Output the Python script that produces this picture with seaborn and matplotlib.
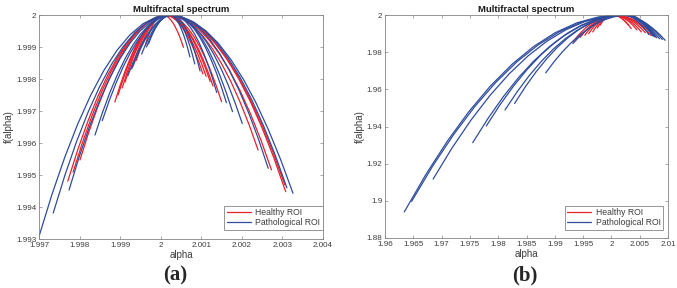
import matplotlib
matplotlib.use("Agg")
import matplotlib.pyplot as plt
import pandas as pd
import seaborn as sns
from matplotlib.lines import Line2D

# ---------------- data ----------------
GROUPS = ["Healthy ROI", "Pathological ROI"]

# Panel (a): healthy curves, alpha values
A_HEALTHY_ALPHA = [
    [1.99771, 1.997957, 1.998204, 1.998451, 1.998698, 1.998945, 1.999192, 1.999439, 1.999686, 1.999933, 2.00018,
     2.00047, 2.00076, 2.00105, 2.00134, 2.00163, 2.00192, 2.00221, 2.0025, 2.00279, 2.00308],
    [1.99784, 1.998074, 1.998308, 1.998542, 1.998776, 1.99901, 1.999244, 1.999478, 1.999712, 1.999946, 2.00018,
     2.000468, 2.000756, 2.001044, 2.001332, 2.00162, 2.001908, 2.002196, 2.002484, 2.002772, 2.00306],
    [1.99801, 1.998225, 1.99844, 1.998655, 1.99887, 1.999085, 1.9993, 1.999515, 1.99973, 1.999945, 2.00016,
     2.000417, 2.000674, 2.000931, 2.001188, 2.001445, 2.001702, 2.001959, 2.002216, 2.002473, 2.00273],
    [1.99887, 1.998998, 1.999126, 1.999254, 1.999382, 1.99951, 1.999638, 1.999766, 1.999894, 2.000022, 2.00015,
     2.000375, 2.0006, 2.000825, 2.00105, 2.001275, 2.0015, 2.001725, 2.00195, 2.002175, 2.0024],
    [1.99895, 1.999069, 1.999188, 1.999307, 1.999426, 1.999545, 1.999664, 1.999783, 1.999902, 2.000021, 2.00014,
     2.000276, 2.000412, 2.000548, 2.000684, 2.00082, 2.000956, 2.001092, 2.001228, 2.001364, 2.0015],
    [1.99905, 1.999157, 1.999264, 1.999371, 1.999478, 1.999585, 1.999692, 1.999799, 1.999906, 2.000013, 2.00012,
     2.000237, 2.000354, 2.000471, 2.000588, 2.000705, 2.000822, 2.000939, 2.001056, 2.001173, 2.00129],
    [1.99912, 1.99922, 1.99932, 1.99942, 1.99952, 1.99962, 1.99972, 1.99982, 1.99992, 2.00002, 2.00012,
     2.00023, 2.00034, 2.00045, 2.00056, 2.00067, 2.00078, 2.00089, 2.001, 2.00111, 2.00122],
    [1.99928, 1.999362, 1.999444, 1.999526, 1.999608, 1.99969, 1.999772, 1.999854, 1.999936, 2.000018, 2.0001,
     2.000202, 2.000304, 2.000406, 2.000508, 2.00061, 2.000712, 2.000814, 2.000916, 2.001018, 2.00112],
    [1.9994, 1.99947, 1.99954, 1.99961, 1.99968, 1.99975, 1.99982, 1.99989, 1.99996, 2.00003, 2.0001,
     2.000194, 2.000288, 2.000382, 2.000476, 2.00057, 2.000664, 2.000758, 2.000852, 2.000946, 2.00104],
    [1.99962, 1.999663, 1.999706, 1.999749, 1.999792, 1.999835, 1.999878, 1.999921, 1.999964, 2.000007, 2.00005,
     2.000101, 2.000152, 2.000203, 2.000254, 2.000305, 2.000356, 2.000407, 2.000458, 2.000509, 2.00056],
]
# Panel (a): healthy curves, f(alpha) values
A_HEALTHY_F = [
    [1.99481, 1.995796, 1.996678, 1.997457, 1.998132, 1.998702, 1.99917, 1.999533, 1.999792, 1.999948, 2.0,
     1.999945, 1.999779, 1.999503, 1.999117, 1.99862, 1.998013, 1.997295, 1.996467, 1.995529, 1.99448],
    [1.99509, 1.996023, 1.996858, 1.997594, 1.998232, 1.998772, 1.999214, 1.999558, 1.999804, 1.999951, 2.0,
     1.999947, 1.999788, 1.999522, 1.99915, 1.998672, 1.998088, 1.997398, 1.996602, 1.995699, 1.99469],
    [1.99547, 1.996331, 1.997101, 1.99778, 1.998369, 1.998867, 1.999275, 1.999592, 1.999819, 1.999955, 2.0,
     1.999952, 1.999806, 1.999564, 1.999226, 1.99879, 1.998258, 1.997628, 1.996902, 1.99608, 1.99516],
    [1.99728, 1.997797, 1.998259, 1.998667, 1.999021, 1.99932, 1.999565, 1.999755, 1.999891, 1.999973, 2.0,
     1.999958, 1.999831, 1.99962, 1.999325, 1.998945, 1.998481, 1.997932, 1.997299, 1.996582, 1.99578],
    [1.9975, 1.997975, 1.9984, 1.998775, 1.9991, 1.999375, 1.9996, 1.999775, 1.9999, 1.999975, 2.0,
     1.999973, 1.999892, 1.999756, 1.999566, 1.999322, 1.999024, 1.998672, 1.998266, 1.997805, 1.99729],
    [1.99772, 1.998153, 1.998541, 1.998883, 1.999179, 1.99943, 1.999635, 1.999795, 1.999909, 1.999977, 2.0,
     1.999978, 1.999911, 1.9998, 1.999645, 1.999445, 1.999201, 1.998912, 1.998579, 1.998202, 1.99778],
    [1.9979, 1.998299, 1.998656, 1.998971, 1.999244, 1.999475, 1.999664, 1.999811, 1.999916, 1.999979, 2.0,
     1.999979, 1.999917, 1.999813, 1.999667, 1.99948, 1.999251, 1.998981, 1.998669, 1.998315, 1.99792],
    [1.99831, 1.998631, 1.998918, 1.999172, 1.999392, 1.999577, 1.99973, 1.999848, 1.999932, 1.999983, 2.0,
     1.999981, 1.999923, 1.999827, 1.999693, 1.99952, 1.999309, 1.999059, 1.998771, 1.998445, 1.99808],
    [1.99858, 1.99885, 1.999091, 1.999304, 1.999489, 1.999645, 1.999773, 1.999872, 1.999943, 1.999986, 2.0,
     1.999982, 1.999926, 1.999834, 1.999706, 1.99954, 1.999338, 1.999098, 1.998822, 1.99851, 1.99816],
    [1.99905, 1.99923, 1.999392, 1.999534, 1.999658, 1.999762, 1.999848, 1.999914, 1.999962, 1.99999, 2.0,
     1.99999, 1.99996, 1.999909, 1.999838, 1.999747, 1.999636, 1.999505, 1.999354, 1.999182, 1.99899],
]

# Panel (a): pathological curves, alpha values
A_PATHO_ALPHA = [
    [1.997, 1.99732, 1.99764, 1.99796, 1.99828, 1.9986, 1.99892, 1.99924, 1.99956, 1.99988, 2.0002,
     2.000506, 2.000812, 2.001118, 2.001424, 2.00173, 2.002036, 2.002342, 2.002648, 2.002954, 2.00326],
    [1.99735, 1.997637, 1.997924, 1.998211, 1.998498, 1.998785, 1.999072, 1.999359, 1.999646, 1.999933, 2.00022,
     2.000509, 2.000798, 2.001087, 2.001376, 2.001665, 2.001954, 2.002243, 2.002532, 2.002821, 2.00311],
    [1.99774, 1.997991, 1.998242, 1.998493, 1.998744, 1.998995, 1.999246, 1.999497, 1.999748, 1.999999, 2.00025,
     2.00049, 2.00073, 2.00097, 2.00121, 2.00145, 2.00169, 2.00193, 2.00217, 2.00241, 2.00265],
    [1.99838, 1.998567, 1.998754, 1.998941, 1.999128, 1.999315, 1.999502, 1.999689, 1.999876, 2.000063, 2.00025,
     2.000426, 2.000602, 2.000778, 2.000954, 2.00113, 2.001306, 2.001482, 2.001658, 2.001834, 2.00201],
    [1.99856, 1.998732, 1.998904, 1.999076, 1.999248, 1.99942, 1.999592, 1.999764, 1.999936, 2.000108, 2.00028,
     2.000429, 2.000578, 2.000727, 2.000876, 2.001025, 2.001174, 2.001323, 2.001472, 2.001621, 2.00177],
    [1.99919, 1.999301, 1.999412, 1.999523, 1.999634, 1.999745, 1.999856, 1.999967, 2.000078, 2.000189, 2.0003,
     2.000432, 2.000564, 2.000696, 2.000828, 2.00096, 2.001092, 2.001224, 2.001356, 2.001488, 2.00162],
    [1.9993, 1.9994, 1.9995, 1.9996, 1.9997, 1.9998, 1.9999, 2.0, 2.0001, 2.0002, 2.0003,
     2.000408, 2.000516, 2.000624, 2.000732, 2.00084, 2.000948, 2.001056, 2.001164, 2.001272, 2.00138],
    [1.99953, 1.999605, 1.99968, 1.999755, 1.99983, 1.999905, 1.99998, 2.000055, 2.00013, 2.000205, 2.00028,
     2.000349, 2.000418, 2.000487, 2.000556, 2.000625, 2.000694, 2.000763, 2.000832, 2.000901, 2.00097],
    [1.99965, 1.99971, 1.99977, 1.99983, 1.99989, 1.99995, 2.00001, 2.00007, 2.00013, 2.00019, 2.00025,
     2.000309, 2.000368, 2.000427, 2.000486, 2.000545, 2.000604, 2.000663, 2.000722, 2.000781, 2.00084],
    [1.9997, 1.999752, 1.999804, 1.999856, 1.999908, 1.99996, 2.000012, 2.000064, 2.000116, 2.000168, 2.00022,
     2.00027, 2.00032, 2.00037, 2.00042, 2.00047, 2.00052, 2.00057, 2.00062, 2.00067, 2.00072],
]
# Panel (a): pathological curves, f(alpha) values
A_PATHO_F = [
    [1.99308, 1.994395, 1.995571, 1.996609, 1.997509, 1.99827, 1.998893, 1.999377, 1.999723, 1.999931, 2.0,
     1.999944, 1.999777, 1.999499, 1.999109, 1.998607, 1.997995, 1.997271, 1.996435, 1.995488, 1.99443],
    [1.99381, 1.994986, 1.996038, 1.996967, 1.997772, 1.998452, 1.99901, 1.999443, 1.999752, 1.999938, 2.0,
     1.999946, 1.999784, 1.999514, 1.999136, 1.99865, 1.998056, 1.997354, 1.996544, 1.995626, 1.9946],
    [1.99453, 1.995569, 1.996499, 1.99732, 1.998031, 1.998632, 1.999125, 1.999508, 1.999781, 1.999945, 2.0,
     1.999952, 1.999808, 1.999569, 1.999234, 1.998802, 1.998276, 1.997653, 1.996934, 1.99612, 1.99521],
    [1.99625, 1.996962, 1.9976, 1.998162, 1.99865, 1.999062, 1.9994, 1.999662, 1.99985, 1.999962, 2.0,
     1.999966, 1.999864, 1.999695, 1.999458, 1.999152, 1.99878, 1.998339, 1.99783, 1.997254, 1.99661],
    [1.9967, 1.997327, 1.997888, 1.998383, 1.998812, 1.999175, 1.999472, 1.999703, 1.999868, 1.999967, 2.0,
     1.99997, 1.999879, 1.999728, 1.999517, 1.999245, 1.998913, 1.99852, 1.998067, 1.997554, 1.99698],
    [1.9981, 1.998461, 1.998784, 1.999069, 1.999316, 1.999525, 1.999696, 1.999829, 1.999924, 1.999981, 2.0,
     1.999973, 1.99989, 1.999753, 1.999562, 1.999315, 1.999014, 1.998657, 1.998246, 1.997781, 1.99726],
    [1.99835, 1.998663, 1.998944, 1.999191, 1.999406, 1.999587, 1.999736, 1.999851, 1.999934, 1.999983, 2.0,
     1.999976, 1.999903, 1.999782, 1.999613, 1.999395, 1.999129, 1.998814, 1.998451, 1.99804, 1.99758],
    [1.99878, 1.999012, 1.999219, 1.999402, 1.999561, 1.999695, 1.999805, 1.99989, 1.999951, 1.999988, 2.0,
     1.999982, 1.99993, 1.999842, 1.99972, 1.999562, 1.99937, 1.999142, 1.99888, 1.998582, 1.99825],
    [1.999, 1.99919, 1.99936, 1.99951, 1.99964, 1.99975, 1.99984, 1.99991, 1.99996, 1.99999, 2.0,
     1.999985, 1.999939, 1.999862, 1.999755, 1.999617, 1.999449, 1.99925, 1.999021, 1.998761, 1.99847],
    [1.9991, 1.999271, 1.999424, 1.999559, 1.999676, 1.999775, 1.999856, 1.999919, 1.999964, 1.999991, 2.0,
     1.999987, 1.999948, 1.999882, 1.99979, 1.999672, 1.999528, 1.999358, 1.999162, 1.998939, 1.99869],
]

# Panel (b): healthy curves, alpha values
B_HEALTHY_ALPHA = [
    [1.9932, 1.99393, 1.99466, 1.99539, 1.99612, 1.99685, 1.99758, 1.99831, 1.99904, 1.99977, 2.0005,
     2.00122, 2.00194, 2.00266, 2.00338, 2.0041, 2.00482, 2.00554, 2.00626, 2.00698, 2.0077],
    [1.9945, 1.9951, 1.9957, 1.9963, 1.9969, 1.9975, 1.9981, 1.9987, 1.9993, 1.9999, 2.0005,
     2.00115, 2.0018, 2.00245, 2.0031, 2.00375, 2.0044, 2.00505, 2.0057, 2.00635, 2.007],
    [1.9953, 1.99581, 1.99632, 1.99683, 1.99734, 1.99785, 1.99836, 1.99887, 1.99938, 1.99989, 2.0004,
     2.00096, 2.00152, 2.00208, 2.00264, 2.0032, 2.00376, 2.00432, 2.00488, 2.00544, 2.006],
    [1.996, 1.99643, 1.99686, 1.99729, 1.99772, 1.99815, 1.99858, 1.99901, 1.99944, 1.99987, 2.0003,
     2.0008, 2.0013, 2.0018, 2.0023, 2.0028, 2.0033, 2.0038, 2.0043, 2.0048, 2.0053],
    [1.9967, 1.99706, 1.99742, 1.99778, 1.99814, 1.9985, 1.99886, 1.99922, 1.99958, 1.99994, 2.0003,
     2.00072, 2.00114, 2.00156, 2.00198, 2.0024, 2.00282, 2.00324, 2.00366, 2.00408, 2.0045],
    [1.9975, 1.99777, 1.99804, 1.99831, 1.99858, 1.99885, 1.99912, 1.99939, 1.99966, 1.99993, 2.0002,
     2.00053, 2.00086, 2.00119, 2.00152, 2.00185, 2.00218, 2.00251, 2.00284, 2.00317, 2.0035],
    [1.998, 1.99822, 1.99844, 1.99866, 1.99888, 1.9991, 1.99932, 1.99954, 1.99976, 1.99998, 2.0002,
     2.00048, 2.00076, 2.00104, 2.00132, 2.0016, 2.00188, 2.00216, 2.00244, 2.00272, 2.003],
]
# Panel (b): healthy curves, f(alpha) values
B_HEALTHY_F = [
    [1.9855, 1.988255, 1.99072, 1.992895, 1.99478, 1.996375, 1.99768, 1.998695, 1.99942, 1.999855, 2.0,
     1.999882, 1.999528, 1.998938, 1.998112, 1.99705, 1.995752, 1.994218, 1.992448, 1.990442, 1.9882],
    [1.988, 1.99028, 1.99232, 1.99412, 1.99568, 1.997, 1.99808, 1.99892, 1.99952, 1.99988, 2.0,
     1.99989, 1.99956, 1.99901, 1.99824, 1.99725, 1.99604, 1.99461, 1.99296, 1.99109, 1.989],
    [1.9891, 1.991171, 1.993024, 1.994659, 1.996076, 1.997275, 1.998256, 1.999019, 1.999564, 1.999891, 2.0,
     1.999905, 1.99962, 1.999145, 1.99848, 1.997625, 1.99658, 1.995345, 1.99392, 1.992305, 1.9905],
    [1.99, 1.9919, 1.9936, 1.9951, 1.9964, 1.9975, 1.9984, 1.9991, 1.9996, 1.9999, 2.0,
     1.999909, 1.999636, 1.999181, 1.998544, 1.997725, 1.996724, 1.995541, 1.994176, 1.992629, 1.9909],
    [1.9909, 1.992629, 1.994176, 1.995541, 1.996724, 1.997725, 1.998544, 1.999181, 1.999636, 1.999909, 2.0,
     1.99992, 1.99968, 1.99928, 1.99872, 1.998, 1.99712, 1.99608, 1.99488, 1.99352, 1.992],
    [1.993, 1.99433, 1.99552, 1.99657, 1.99748, 1.99825, 1.99888, 1.99937, 1.99972, 1.99993, 2.0,
     1.999927, 1.999708, 1.999343, 1.998832, 1.998175, 1.997372, 1.996423, 1.995328, 1.994087, 1.9927],
    [1.9945, 1.995545, 1.99648, 1.997305, 1.99802, 1.998625, 1.99912, 1.999505, 1.99978, 1.999945, 2.0,
     1.999945, 1.99978, 1.999505, 1.99912, 1.998625, 1.99802, 1.997305, 1.99648, 1.995545, 1.9945],
]

# Panel (b): pathological curves, alpha values
B_PATHO_ALPHA = [
    [1.9634, 1.96721, 1.97102, 1.97483, 1.97864, 1.98245, 1.98626, 1.99007, 1.99388, 1.99769, 2.0015,
     2.0023, 2.0031, 2.0039, 2.0047, 2.0055, 2.0063, 2.0071, 2.0079, 2.0087, 2.0095],
    [1.9647, 1.96843, 1.97216, 1.97589, 1.97962, 1.98335, 1.98708, 1.99081, 1.99454, 1.99827, 2.002,
     2.0027, 2.0034, 2.0041, 2.0048, 2.0055, 2.0062, 2.0069, 2.0076, 2.0083, 2.009],
    [1.9685, 1.97185, 1.9752, 1.97855, 1.9819, 1.98525, 1.9886, 1.99195, 1.9953, 1.99865, 2.002,
     2.00265, 2.0033, 2.00395, 2.0046, 2.00525, 2.0059, 2.00655, 2.0072, 2.00785, 2.0085],
    [1.9755, 1.9782, 1.9809, 1.9836, 1.9863, 1.989, 1.9917, 1.9944, 1.9971, 1.9998, 2.0025,
     2.00305, 2.0036, 2.00415, 2.0047, 2.00525, 2.0058, 2.00635, 2.0069, 2.00745, 2.008],
    [1.9779, 1.98031, 1.98272, 1.98513, 1.98754, 1.98995, 1.99236, 1.99477, 1.99718, 1.99959, 2.002,
     2.00258, 2.00316, 2.00374, 2.00432, 2.0049, 2.00548, 2.00606, 2.00664, 2.00722, 2.0078],
    [1.9812, 1.98333, 1.98546, 1.98759, 1.98972, 1.99185, 1.99398, 1.99611, 1.99824, 2.00037, 2.0025,
     2.00301, 2.00352, 2.00403, 2.00454, 2.00505, 2.00556, 2.00607, 2.00658, 2.00709, 2.0076],
    [1.9829, 1.98481, 1.98672, 1.98863, 1.99054, 1.99245, 1.99436, 1.99627, 1.99818, 2.00009, 2.002,
     2.00254, 2.00308, 2.00362, 2.00416, 2.0047, 2.00524, 2.00578, 2.00632, 2.00686, 2.0074],
    [1.9884, 1.98986, 1.99132, 1.99278, 1.99424, 1.9957, 1.99716, 1.99862, 2.00008, 2.00154, 2.003,
     2.00342, 2.00384, 2.00426, 2.00468, 2.0051, 2.00552, 2.00594, 2.00636, 2.00678, 2.0072],
    [1.9932, 1.99408, 1.99496, 1.99584, 1.99672, 1.9976, 1.99848, 1.99936, 2.00024, 2.00112, 2.002,
     2.00246, 2.00292, 2.00338, 2.00384, 2.0043, 2.00476, 2.00522, 2.00568, 2.00614, 2.0066],
]
# Panel (b): pathological curves, f(alpha) values
B_PATHO_F = [
    [1.894, 1.91414, 1.93216, 1.94806, 1.96184, 1.9735, 1.98304, 1.99046, 1.99576, 1.99894, 2.0,
     1.999864, 1.999456, 1.998776, 1.997824, 1.9966, 1.995104, 1.993336, 1.991296, 1.988984, 1.9864],
    [1.8997, 1.918757, 1.935808, 1.950853, 1.963892, 1.974925, 1.983952, 1.990973, 1.995988, 1.998997, 2.0,
     1.999868, 1.999472, 1.998812, 1.997888, 1.9967, 1.995248, 1.993532, 1.991552, 1.989308, 1.9868],
    [1.9117, 1.928477, 1.943488, 1.956733, 1.968212, 1.977925, 1.985872, 1.992053, 1.996468, 1.999117, 2.0,
     1.999872, 1.999488, 1.998848, 1.997952, 1.9968, 1.995392, 1.993728, 1.991808, 1.989632, 1.9872],
    [1.9313, 1.944353, 1.956032, 1.966337, 1.975268, 1.982825, 1.989008, 1.993817, 1.997252, 1.999313, 2.0,
     1.999878, 1.999512, 1.998902, 1.998048, 1.99695, 1.995608, 1.994022, 1.992192, 1.990118, 1.9878],
    [1.9403, 1.951643, 1.961792, 1.970747, 1.978508, 1.985075, 1.990448, 1.994627, 1.997612, 1.999403, 2.0,
     1.999882, 1.999528, 1.998938, 1.998112, 1.99705, 1.995752, 1.994218, 1.992448, 1.990442, 1.9882],
    [1.9489, 1.958609, 1.967296, 1.974961, 1.981604, 1.987225, 1.991824, 1.995401, 1.997956, 1.999489, 2.0,
     1.999884, 1.999536, 1.998956, 1.998144, 1.9971, 1.995824, 1.994316, 1.992576, 1.990604, 1.9884],
    [1.9524, 1.961444, 1.969536, 1.976676, 1.982864, 1.9881, 1.992384, 1.995716, 1.998096, 1.999524, 2.0,
     1.999886, 1.999544, 1.998974, 1.998176, 1.99715, 1.995896, 1.994414, 1.992704, 1.990766, 1.9886],
    [1.9689, 1.974809, 1.980096, 1.984761, 1.988804, 1.992225, 1.995024, 1.997201, 1.998756, 1.999689, 2.0,
     1.99989, 1.99956, 1.99901, 1.99824, 1.99725, 1.99604, 1.99461, 1.99296, 1.99109, 1.989],
    [1.9846, 1.987526, 1.990144, 1.992454, 1.994456, 1.99615, 1.997536, 1.998614, 1.999384, 1.999846, 2.0,
     1.999895, 1.99958, 1.999055, 1.99832, 1.997375, 1.99622, 1.994855, 1.99328, 1.991495, 1.9895],
]

# Axis ticks
A_XTICKS = [1.997, 1.998, 1.999, 2.0, 2.001, 2.002, 2.003, 2.004]
A_XTICKLABELS = ["1.997", "1.998", "1.999", "2", "2.001", "2.002", "2.003", "2.004"]
A_YTICKS = [1.993, 1.994, 1.995, 1.996, 1.997, 1.998, 1.999, 2.0]
A_YTICKLABELS = ["1.993", "1.994", "1.995", "1.996", "1.997", "1.998", "1.999", "2"]
B_XTICKS = [1.96, 1.965, 1.97, 1.975, 1.98, 1.985, 1.99, 1.995, 2.0, 2.005, 2.01]
B_XTICKLABELS = ["1.96", "1.965", "1.97", "1.975", "1.98", "1.985", "1.99", "1.995", "2", "2.005", "2.01"]
B_YTICKS = [1.88, 1.9, 1.92, 1.94, 1.96, 1.98, 2.0]
B_YTICKLABELS = ["1.88", "1.9", "1.92", "1.94", "1.96", "1.98", "2"]

RED = "#e8202a"
BLUE = "#2f4c9c"
PALETTE = {"Healthy ROI": RED, "Pathological ROI": BLUE}


def build_frame(alpha_lists, f_lists, group, prefix):
    rows = []
    for i, (al, fl) in enumerate(zip(alpha_lists, f_lists)):
        for a, f in zip(al, fl):
            rows.append({"curve": f"{prefix}{i}", "group": group, "alpha": a, "f": f})
    return pd.DataFrame(rows)


df_a = pd.concat([
    build_frame(A_HEALTHY_ALPHA, A_HEALTHY_F, GROUPS[0], "ah"),
    build_frame(A_PATHO_ALPHA, A_PATHO_F, GROUPS[1], "ap"),
], ignore_index=True)
df_b = pd.concat([
    build_frame(B_HEALTHY_ALPHA, B_HEALTHY_F, GROUPS[0], "bh"),
    build_frame(B_PATHO_ALPHA, B_PATHO_F, GROUPS[1], "bp"),
], ignore_index=True)

sns.set_theme(style="white")
plt.rcParams["font.family"] = ["Liberation Sans", "DejaVu Sans"]

fig = plt.figure(figsize=(6.77, 2.88), dpi=100)
axA = fig.add_axes([39 / 677, 49 / 288, 284 / 677, 224 / 288])
axB = fig.add_axes([385 / 677, 50 / 288, 283 / 677, 223 / 288])

SPINE = "#858585"
TICKC = "#3c3c3c"


def draw(ax, df, xlim, ylim, xt, xtl, yt, ytl, leg_anchor):
    sns.lineplot(data=df, x="alpha", y="f", hue="group", hue_order=GROUPS,
                 units="curve", estimator=None, sort=False, palette=PALETTE,
                 linewidth=0.9, legend=False, ax=ax)
    ax.set_xlim(*xlim)
    ax.set_ylim(*ylim)
    ax.set_xticks(xt)
    ax.set_xticklabels(xtl)
    ax.set_yticks(yt)
    ax.set_yticklabels(ytl)
    ax.tick_params(direction="in", length=2.5, width=0.5, color=SPINE,
                   labelsize=5.8, labelcolor=TICKC, pad=2,
                   top=True, right=True, bottom=True, left=True)
    for s in ax.spines.values():
        s.set_color(SPINE)
        s.set_linewidth(0.6)
    ax.set_xlabel("alpha", fontsize=7, color=TICKC, labelpad=1)
    ax.set_ylabel("f(alpha)", fontsize=7, color=TICKC, labelpad=1.5)
    ax.set_title("Multifractal spectrum", fontsize=6.8, fontweight="bold",
                 color="#1a1a1a", pad=2)
    handles = [Line2D([], [], color=PALETTE[g], lw=0.9) for g in GROUPS]
    leg = ax.legend(handles, GROUPS, loc="lower right", bbox_to_anchor=leg_anchor,
                    borderaxespad=0, fontsize=6.2, handlelength=2.8,
                    handletextpad=0.5, labelspacing=0.12, borderpad=0.3,
                    frameon=True, fancybox=False, framealpha=1)
    leg.get_frame().set_edgecolor(SPINE)
    leg.get_frame().set_linewidth(0.6)
    for t in leg.get_texts():
        t.set_color(TICKC)


draw(axA, df_a, (1.997, 2.004), (1.993, 2.0), A_XTICKS, A_XTICKLABELS,
     A_YTICKS, A_YTICKLABELS, (1.0, 0.04))
draw(axB, df_b, (1.96, 2.01), (1.88, 2.0), B_XTICKS, B_XTICKLABELS,
     B_YTICKS, B_YTICKLABELS, (0.983, 0.036))

fig.text(175 / 677, 0.045, "(a)", family=["Liberation Serif", "DejaVu Serif"],
         fontweight="bold", fontsize=15, ha="center", va="center")
fig.text(525 / 677, 0.045, "(b)", family=["Liberation Serif", "DejaVu Serif"],
         fontweight="bold", fontsize=15, ha="center", va="center")

fig.savefig("out.png", dpi=100, facecolor="white")
